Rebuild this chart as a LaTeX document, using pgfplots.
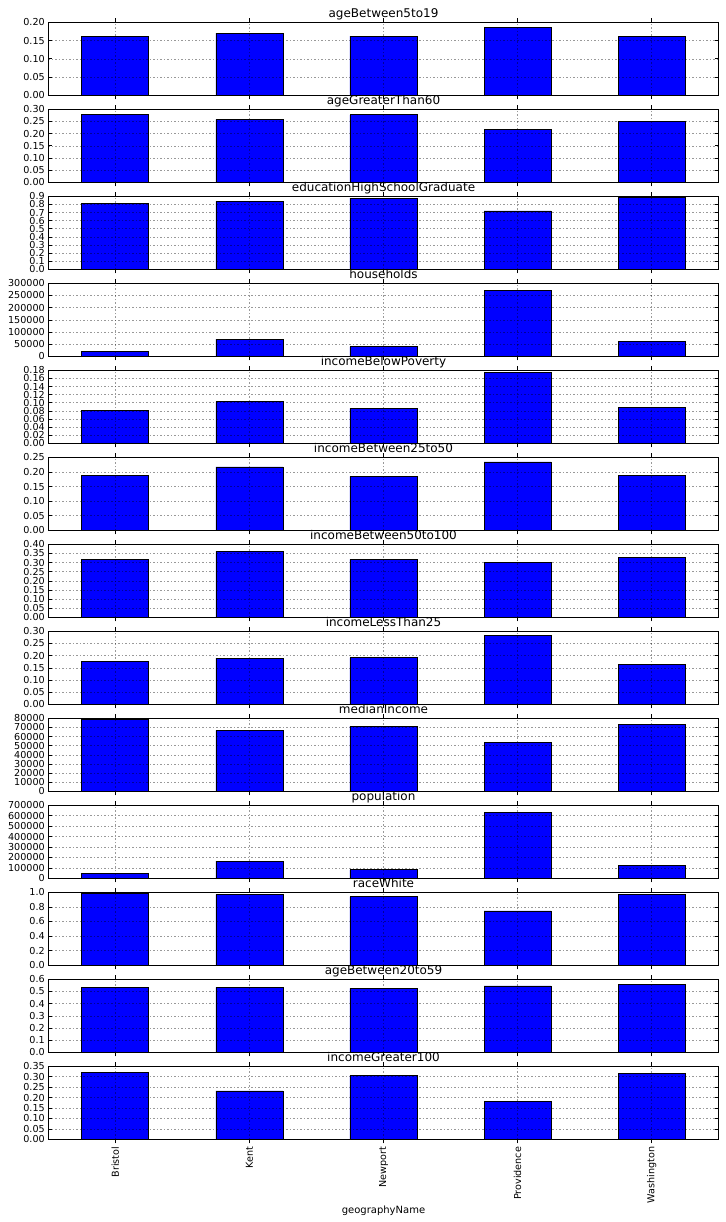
\documentclass[border=0pt]{standalone}
\usepackage{fontspec}
\setmainfont{DejaVu Sans}
\usepackage{pgfplots}
\pgfplotsset{compat=1.18}
\usepgfplotslibrary{groupplots}
\begin{document}
\begin{tikzpicture}
\pgfplotsset{
  two/.style={yticklabel style={/pgf/number format/.cd, fixed, fixed zerofill, precision=2}},
  one/.style={yticklabel style={/pgf/number format/.cd, fixed, fixed zerofill, precision=1}},
  int/.style={yticklabel style={/pgf/number format/.cd, fixed, precision=0}},
  bb/.style={fill=blue, draw=black, line width=0.8pt},
}
\begin{groupplot}[
  group style={group size=1 by 13, vertical sep=14pt, x descriptions at=edge bottom},
  scale only axis, width=670.4pt, height=73pt,
  xmin=-0.5, xmax=4.5, ymin=0,
  xtick={0,1,2,3,4},
  xticklabels={Bristol,Kent,Newport,Providence,Washington},
  xticklabel style={rotate=90, anchor=east, font=\fontsize{9.6}{11}\selectfont},
  yticklabel style={font=\fontsize{9.6}{11}\selectfont},
  /pgf/number format/assume math mode=true,
  /pgf/number format/1000 sep={},
  scaled y ticks=false,
  grid=major,
  grid style={black, opacity=0.4, line width=0.5pt, dash pattern=on 1.5pt off 2pt},
  axis on top,
  axis line style={line width=0.8pt},
  tick style={black, line width=0.6pt},
  major tick length=4pt,
  title style={font=\fontsize{12}{14}\selectfont, at={(0.5,1)}, anchor=base, yshift=-1pt},
  ybar, /pgf/bar width=0.5,
]
\nextgroupplot[title={ageBetween5to19}, ymax=0.20, ytick={0,0.05,...,0.21}, two]
\coordinate (tl) at (rel axis cs:0,1);
\addplot[bb] coordinates {(0,0.162) (1,0.170) (2,0.162) (3,0.186) (4,0.162)};
\nextgroupplot[title={ageGreaterThan60}, ymax=0.30, ytick={0,0.05,...,0.31}, two]
\addplot[bb] coordinates {(0,0.278) (1,0.259) (2,0.277) (3,0.218) (4,0.249)};
\nextgroupplot[title={educationHighSchoolGraduate}, ymax=0.9, ytick={0,0.1,...,0.91}, one]
\addplot[bb] coordinates {(0,0.814) (1,0.838) (2,0.876) (3,0.719) (4,0.888)};
\nextgroupplot[title={households}, ymax=300000, ytick={0,50000,...,300000}, int]
\addplot[bb] coordinates {(0,20500) (1,70500) (2,40000) (3,272000) (4,62500)};
\nextgroupplot[title={incomeBelowPoverty}, ymax=0.18, ytick={0,0.02,...,0.181}, two]
\addplot[bb] coordinates {(0,0.082) (1,0.103) (2,0.086) (3,0.175) (4,0.088)};
\nextgroupplot[title={incomeBetween25to50}, ymax=0.25, ytick={0,0.05,...,0.251}, two]
\addplot[bb] coordinates {(0,0.188) (1,0.217) (2,0.185) (3,0.234) (4,0.189)};
\nextgroupplot[title={incomeBetween50to100}, ymax=0.40, ytick={0,0.05,...,0.401}, two]
\addplot[bb] coordinates {(0,0.317) (1,0.361) (2,0.318) (3,0.303) (4,0.328)};
\nextgroupplot[title={incomeLessThan25}, ymax=0.30, ytick={0,0.05,...,0.31}, two]
\addplot[bb] coordinates {(0,0.177) (1,0.190) (2,0.192) (3,0.283) (4,0.164)};
\nextgroupplot[title={medianIncome}, ymax=80000, ytick={0,10000,...,80000}, int]
\addplot[bb] coordinates {(0,79300) (1,66700) (2,71400) (3,53300) (4,73300)};
\nextgroupplot[title={population}, ymax=700000, ytick={0,100000,...,700000}, int]
\addplot[bb] coordinates {(0,49000) (1,165000) (2,82000) (3,632000) (4,126000)};
\nextgroupplot[title={raceWhite}, ymax=1.0, ytick={0,0.2,...,1.01}, one]
\addplot[bb] coordinates {(0,0.986) (1,0.972) (2,0.940) (3,0.744) (4,0.972)};
\nextgroupplot[title={ageBetween20to59}, ymax=0.6, ytick={0,0.1,...,0.61}, one]
\addplot[bb] coordinates {(0,0.533) (1,0.533) (2,0.525) (3,0.545) (4,0.555)};
\nextgroupplot[title={incomeGreater100}, ymax=0.35, ytick={0,0.05,...,0.351}, two,
  xlabel={geographyName}, xlabel style={font=\fontsize{10}{12}\selectfont, at={(rel axis cs:0.5,0)}, anchor=base, yshift=-74.5pt}]
\addplot[bb] coordinates {(0,0.319) (1,0.232) (2,0.305) (3,0.180) (4,0.315)};
\end{groupplot}
\pgfresetboundingbox
\path ([xshift=-48.3pt, yshift=22.3pt]tl) rectangle ([xshift=676.7pt, yshift=-1199.7pt]tl);
\end{tikzpicture}
\end{document}
